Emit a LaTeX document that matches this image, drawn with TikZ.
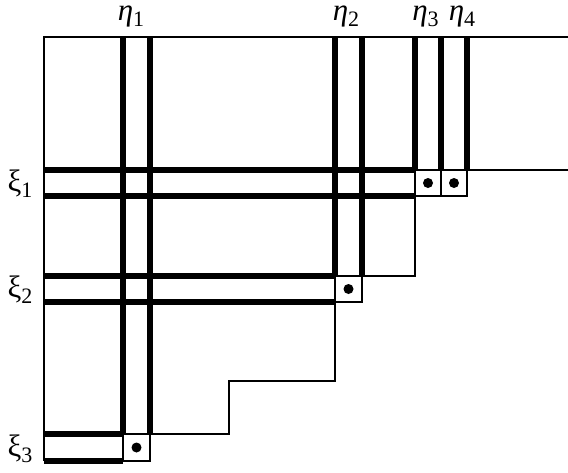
\documentclass[tikz,border=0pt]{standalone}
\usepackage{fontspec}
\setmainfont{Liberation Serif}
\newcommand\lbl[2]{#1\raisebox{-0.22em}{\fontsize{22}{22}\selectfont\upshape #2}}
\begin{document}
\begin{tikzpicture}[x=1pt,y=-1pt,
  thick line/.style={line width=5.6pt},
  thin line/.style={line width=1.6pt},
  cellbox/.style={thin line},
  lab/.style={inner sep=0pt,anchor=base,font=\fontsize{31}{31}\selectfont}]
\useasboundingbox (0,0) rectangle (568,472);
% columns and rows
\def\L{44}\def\aA{123}\def\bA{150}\def\aB{335}\def\bB{362}\def\aC{415}\def\bC{441}\def\bD{467}\def\R{568}
\def\T{37}\def\cA{170}\def\dA{196}\def\cB{276}\def\dB{302}\def\sB{381}\def\cC{434}\def\dC{461}\def\st{229}
% outer thin frame
\draw[thin line] (\R,\T) -- (\L,\T) -- (\L,\dC);
% staircase
\draw[thin line] (\R,\cA) -- (\bD,\cA) -- (\bD,\dA) -- (\aC,\dA) -- (\aC,\cB) -- (\bB,\cB)
  -- (\bB,\dB) -- (\aB,\dB) -- (\aB,\sB) -- (\st,\sB) -- (\st,\cC) -- (\bA,\cC) -- (\bA,\dC) -- (\aA,\dC);
% pivot boxes
\draw[cellbox] (\aC,\cA) rectangle (\bC,\dA);
\draw[cellbox] (\bC,\cA) rectangle (\bD,\dA);
\draw[cellbox] (\aB,\cB) rectangle (\bB,\dB);
\draw[cellbox] (\aA,\cC) rectangle (\bA,\dC);
\fill (428,183) circle (5pt);
\fill (454,183) circle (5pt);
\fill (348.5,289) circle (5pt);
\fill (136.5,447.5) circle (5pt);
% thick column lines
\draw[thick line] (\aA,\T) -- (\aA,\cC) (\bA,\T) -- (\bA,\cC);
\draw[thick line] (\aB,\T) -- (\aB,\cB) (\bB,\T) -- (\bB,\cB);
\draw[thick line] (\aC,\T) -- (\aC,\cA) (\bC,\T) -- (\bC,\cA) (\bD,\T) -- (\bD,\cA);
% thick row lines
\draw[thick line] (\L,\cA) -- (\aC,\cA) (\L,\dA) -- (\aC,\dA);
\draw[thick line] (\L,\cB) -- (\aB,\cB) (\L,\dB) -- (\aB,\dB);
\draw[thick line] (\L,\cC) -- (\aA,\cC) (\L,\dC) -- (\aA,\dC);
% labels
\node[lab] (e1) at (131,20) {\lbl{\textit{η}}{1}};
\node[lab] (e2) at (346,20) {\lbl{\textit{η}}{2}};
\node[lab] (e3) at (425.5,20) {\lbl{\textit{η}}{3}};
\node[lab] (e4) at (462,20) {\lbl{\textit{η}}{4}};
\node[lab] (x1) at (20,191) {\lbl{ξ}{1}};
\node[lab] (x2) at (20,297) {\lbl{ξ}{2}};
\node[lab] (x3) at (20,456) {\lbl{ξ}{3}};
\end{tikzpicture}
\end{document}
